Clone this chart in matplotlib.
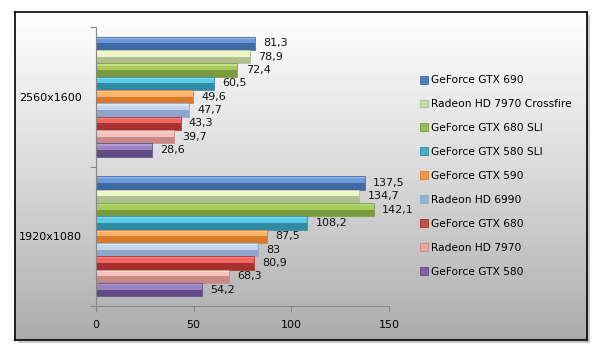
#!/usr/bin/env python3
import numpy as np
import matplotlib
matplotlib.use('Agg')
import matplotlib.pyplot as plt
from matplotlib.patches import Rectangle, Patch
from matplotlib.colors import LinearSegmentedColormap


resolutions = ['1920x1080', '2560x1600']
cards = [
    'GeForce GTX 690',
    'Radeon HD 7970 Crossfire',
    'GeForce GTX 680 SLI',
    'GeForce GTX 580 SLI',
    'GeForce GTX 590',
    'Radeon HD 6990',
    'GeForce GTX 680',
    'Radeon HD 7970',
    'GeForce GTX 580',
]
fps_2560 = [81.3, 78.9, 72.4, 60.5, 49.6, 47.7, 43.3, 39.7, 28.6]
fps_1920 = [137.5, 134.7, 142.1, 108.2, 87.5, 83, 80.9, 68.3, 54.2]
xticks = [0, 50, 100, 150]

# bevel look: light strip on top, light upper half, dark lower half
light = ['#9cbde8', '#f8fcdc', '#c4de86', '#8adcf2', '#fccb98',
         '#dae6f5', '#f68a87', '#fcd8d6', '#b39dd0']
upper = ['#6b98d6', '#eef7c6', '#a8cc5c', '#5ccde9', '#fbb56a',
         '#c4d6ef', '#f06764', '#f7c3c1', '#9c83c4']
dark = ['#3f6aa3', '#aebf90', '#7a9a3e', '#2f8aa3', '#d9792b',
        '#8ea6cc', '#a8302d', '#c88886', '#5f4a84']
legend_col = ['#4f81bd', '#c8dba0', '#9bbb59', '#4bacc6', '#f79646',
              '#95b3d7', '#c0504d', '#e6a8a6', '#8064a2']


def main():
    fig = plt.figure(figsize=(5.97, 3.54), dpi=100)
    W, H = 597, 354

    # chart frame with gradient + shadow
    fx0, fy0, fx1, fy1 = 15, 12, 587, 340
    shadow = Rectangle(((fx0 + 3) / W, 1 - (fy1 + 3) / H), (fx1 - fx0) / W, (fy1 - fy0) / H,
                       transform=fig.transFigure, facecolor='#c8c8c8', edgecolor='none', zorder=0)
    fig.patches.append(shadow)
    bg = fig.add_axes([fx0 / W, 1 - fy1 / H, (fx1 - fx0) / W, (fy1 - fy0) / H], zorder=1)
    cmap = LinearSegmentedColormap.from_list('bg', ['#ffffff', '#d9d9d9', '#acacac'])
    grad = np.linspace(0, 1, 256).reshape(-1, 1)
    bg.imshow(grad, cmap=cmap, aspect='auto', extent=[0, 1, 0, 1])
    bg.set_xticks([])
    bg.set_yticks([])
    for s in bg.spines.values():
        s.set_color('black')
        s.set_linewidth(1.2)

    ax = fig.add_axes([96 / W, 1 - 306 / H, 293 / W, 279 / H], zorder=2)
    ax.patch.set_alpha(0)

    h = 0.0955
    y0 = np.arange(len(resolutions))
    for i, card in enumerate(cards):
        vals = [fps_1920[i], fps_2560[i]]
        y = y0 + (4 - i) * h
        ax.barh(y, vals, height=h, color=dark[i], edgecolor='none')
        ax.barh(y + h * 0.25, vals, height=h * 0.5, color=upper[i], edgecolor='none')
        ax.barh(y + h * 0.42, vals, height=h * 0.16, color=light[i], edgecolor='none')
        ax.barh(y, vals, height=h, fill=False, edgecolor=dark[i], linewidth=0.6)
        for yy, v in zip(y, vals):
            ax.annotate(f'{v:g}'.replace('.', ','), (v, yy), xytext=(6, 0),
                        textcoords='offset points', va='center', ha='left',
                        fontsize=8, color='#111111')

    ax.set_xlim(0, 150)
    ax.set_ylim(-0.5, 1.5)
    ax.set_xticks(xticks)
    ax.set_yticks([-0.5, 0.5, 1.5])
    ax.set_yticklabels([])
    ax.set_yticks(y0, minor=True)
    ax.set_yticklabels(resolutions, minor=True)
    ax.tick_params(axis='y', which='minor', length=0, pad=10, labelsize=8)
    ax.tick_params(axis='y', which='major', length=4, color='#868686')
    ax.tick_params(axis='x', length=4, color='#868686', pad=6, labelsize=8)
    for side in ['top', 'right']:
        ax.spines[side].set_visible(False)
    for side in ['left', 'bottom']:
        ax.spines[side].set_color('#868686')

    handles = [Patch(facecolor=legend_col[i], edgecolor=dark[i], linewidth=0.6)
               for i in range(len(cards))]
    fig.legend(handles, cards, loc='center left', bbox_to_anchor=(0.704, 0.503),
               frameon=False, fontsize=7.7, handlelength=0.75, handleheight=0.75,
               handletextpad=0.25, labelspacing=1.3, borderpad=0, borderaxespad=0)

    fig.savefig('out.png', dpi=100)


if __name__ == '__main__':
    main()
